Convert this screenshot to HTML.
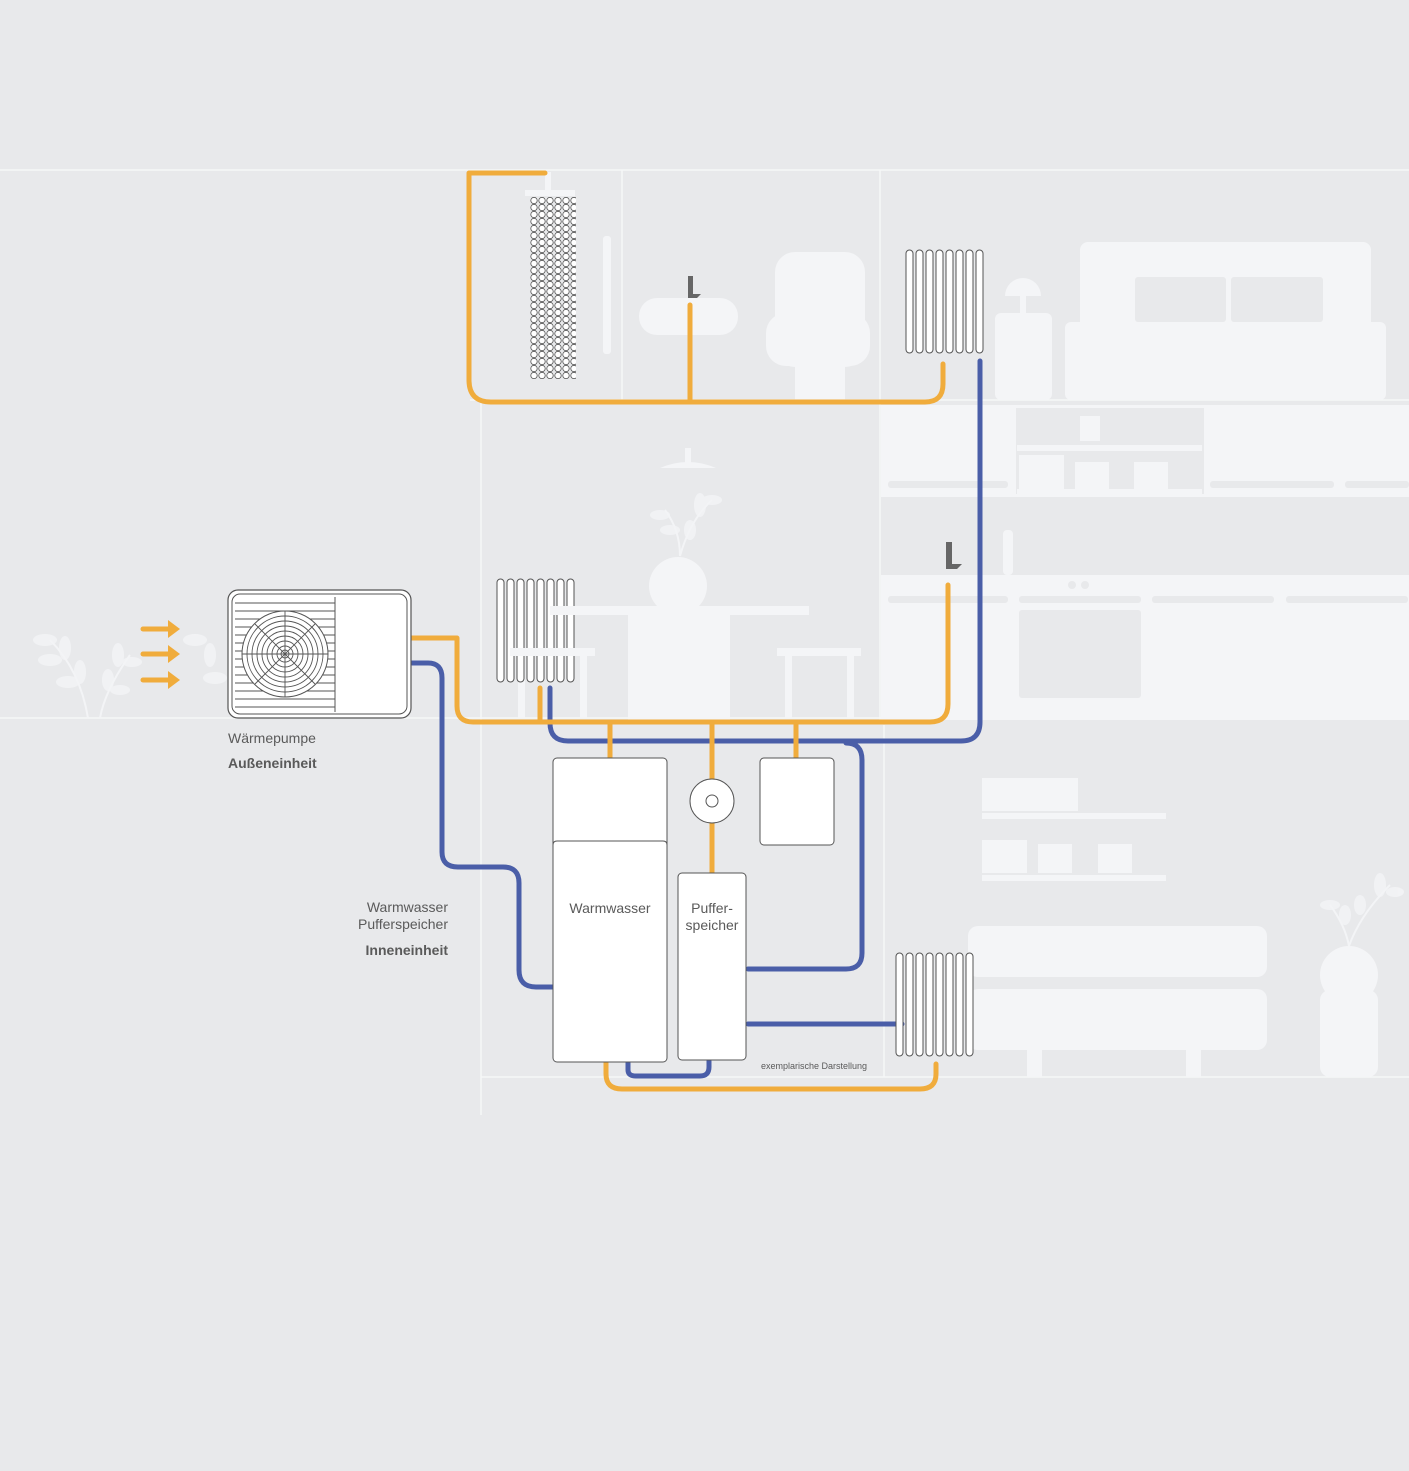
<!DOCTYPE html>
<html><head><meta charset="utf-8"><style>
html,body{margin:0;padding:0;background:#e8e9eb;}
svg{display:block}
text{font-family:"Liberation Sans",sans-serif;fill:#5a5a5a}
</style></head><body>
<svg width="1409" height="1471" viewBox="0 0 1409 1471" xmlns="http://www.w3.org/2000/svg">
<defs>
<pattern id="dots" x="530" y="197" width="8" height="7" patternUnits="userSpaceOnUse">
<circle cx="4" cy="3.5" r="3.2" fill="#fff" stroke="#555" stroke-width="0.8"/>
</pattern>
<g id="rad">
<rect x="0" y="0" width="7" height="103" rx="3.5" fill="#fff" stroke="#555" stroke-width="1"/>
</g>
</defs>
<rect width="1409" height="1471" fill="#e8e9eb"/>
<!-- structure lines -->
<g stroke="#f6f7f8" stroke-width="1.5" fill="none">
<line x1="0" y1="170" x2="1409" y2="170"/>
<line x1="622" y1="170" x2="622" y2="400"/>
<line x1="880" y1="170" x2="880" y2="720"/>
<line x1="481" y1="400" x2="481" y2="1115"/>
<line x1="0" y1="718" x2="1409" y2="718"/>
<line x1="481" y1="1077" x2="1409" y2="1077"/>
<line x1="470" y1="400" x2="1409" y2="400"/>
<line x1="884" y1="725" x2="884" y2="1077"/>
</g>
<!-- furniture -->
<g fill="#f4f5f7">
<rect x="603" y="236" width="8" height="118" rx="3"/>
<rect x="525" y="190" width="50" height="6"/>
<rect x="545" y="172" width="6" height="20"/>
<rect x="639" y="298" width="99" height="37" rx="18"/>
<rect x="775" y="252" width="90" height="115" rx="20"/>
<rect x="766" y="313" width="104" height="53" rx="20"/>
<rect x="795" y="360" width="50" height="40"/>
<rect x="1080" y="242" width="291" height="90" rx="8"/>
<rect x="1065" y="322" width="321" height="78" rx="6"/>
<rect x="995" y="313" width="57" height="87" rx="6"/>
<path d="M1005 296 a18 18 0 0 1 36 0 z"/>
<rect x="1020" y="294" width="6" height="20"/>
<!-- kitchen -->
<rect x="881" y="405" width="528" height="92"/>
<rect x="881" y="575" width="528" height="145"/>
<rect x="1003" y="530" width="10" height="45" rx="4"/>
<circle cx="1003" cy="525" r="4"/><circle cx="1014" cy="518" r="4"/>
<!-- dining -->
<rect x="552" y="606" width="257" height="9"/>
<rect x="628" y="612" width="102" height="108"/>
<circle cx="678" cy="586" r="29"/>
<rect x="510" y="648" width="85" height="8"/>
<rect x="518" y="654" width="7" height="64"/><rect x="580" y="654" width="7" height="64"/>
<rect x="777" y="648" width="84" height="8"/>
<rect x="785" y="654" width="7" height="64"/><rect x="847" y="654" width="7" height="64"/>
<path d="M660 468 q28 -12 56 0 z"/><rect x="685" y="448" width="6" height="20"/>
<!-- living -->
<rect x="982" y="813" width="184" height="6"/>
<rect x="982" y="875" width="184" height="6"/>
<rect x="982" y="778" width="96" height="33"/>
<rect x="982" y="840" width="45" height="33"/>
<rect x="1038" y="844" width="34" height="29"/>
<rect x="1098" y="844" width="34" height="29"/>
<rect x="968" y="926" width="299" height="51" rx="10"/>
<rect x="968" y="989" width="299" height="61" rx="10"/>
<rect x="1027" y="970" width="15" height="107"/>
<rect x="1186" y="970" width="15" height="107"/>
<circle cx="1349" cy="975" r="29"/>
<rect x="1320" y="990" width="58" height="87" rx="10"/>
</g>
<g fill="#e8e9eb">
<rect x="1135" y="277" width="91" height="45" rx="3"/>
<rect x="1231" y="277" width="92" height="45" rx="3"/>
<rect x="1016" y="408" width="188" height="86"/>
<rect x="1019" y="610" width="122" height="88" rx="3"/>
<rect x="881" y="497" width="528" height="78"/>
</g>
<g fill="#f4f5f7">
<rect x="1017" y="445" width="185" height="6"/>
<rect x="1017" y="489" width="185" height="6"/>
<rect x="1080" y="416" width="20" height="25"/>
<rect x="1019" y="455" width="45" height="34"/>
<rect x="1075" y="462" width="34" height="27"/><rect x="1134" y="462" width="34" height="27"/>
<rect x="1003" y="530" width="10" height="45" rx="4"/>
</g>
<g fill="#e8e9eb">
<rect x="888" y="481" width="120" height="7" rx="3"/><rect x="1210" y="481" width="124" height="7" rx="3"/><rect x="1345" y="481" width="64" height="7" rx="3"/>
<rect x="888" y="596" width="120" height="7" rx="3"/><rect x="1019" y="596" width="122" height="7" rx="3"/><rect x="1152" y="596" width="122" height="7" rx="3"/><rect x="1286" y="596" width="122" height="7" rx="3"/>
<circle cx="1072" cy="585" r="4"/><circle cx="1085" cy="585" r="4"/>
<rect x="968" y="977" width="299" height="12"/>
</g>
<!-- plants (simplified) -->
<g fill="#f3f4f6" opacity="0.9">
<ellipse cx="45" cy="640" rx="12" ry="6"/><ellipse cx="65" cy="648" rx="6" ry="12"/><ellipse cx="50" cy="660" rx="12" ry="6"/><ellipse cx="80" cy="672" rx="6" ry="12"/><ellipse cx="68" cy="682" rx="12" ry="6"/>
<ellipse cx="118" cy="655" rx="6" ry="12"/><ellipse cx="132" cy="662" rx="10" ry="5"/><ellipse cx="108" cy="680" rx="6" ry="11"/><ellipse cx="120" cy="690" rx="10" ry="5"/>
<ellipse cx="195" cy="640" rx="12" ry="6"/><ellipse cx="210" cy="655" rx="6" ry="12"/><ellipse cx="215" cy="678" rx="12" ry="6"/>
<ellipse cx="660" cy="515" rx="10" ry="5"/><ellipse cx="670" cy="530" rx="10" ry="5"/><ellipse cx="700" cy="505" rx="6" ry="12"/><ellipse cx="712" cy="500" rx="10" ry="5"/><ellipse cx="690" cy="530" rx="6" ry="10"/>
<ellipse cx="1330" cy="905" rx="10" ry="5"/><ellipse cx="1345" cy="915" rx="6" ry="10"/><ellipse cx="1380" cy="885" rx="6" ry="12"/><ellipse cx="1395" cy="892" rx="9" ry="5"/><ellipse cx="1360" cy="905" rx="6" ry="10"/>
</g>
<g stroke="#f3f4f6" stroke-width="2" fill="none">
<path d="M50 640 Q80 670 88 718"/><path d="M130 655 Q105 690 100 718"/>
<path d="M665 510 Q680 530 680 556"/><path d="M712 500 Q690 520 680 556"/>
<path d="M1330 905 Q1345 925 1349 946"/><path d="M1390 885 Q1360 915 1349 946"/>
</g>
<!-- pipes -->
<g fill="none" stroke-width="5" stroke-linecap="round" stroke-linejoin="round">
<path stroke="#f0ac3c" d="M545 173 H469 V380 Q469 402 491 402 H925 Q943 402 943 384 V364"/>
<path stroke="#f0ac3c" d="M690 305 V402"/>
<path stroke="#4a5ea8" d="M980 361 V722 Q980 741 961 741 H568 Q550 741 550 723 V688"/>
<path stroke="#4a5ea8" d="M846 743 Q862 743 862 760 V953 Q862 969 846 969 H748"/>
<path stroke="#f0ac3c" d="M412 638 H457 V706 Q457 722 473 722 H930 Q948 722 948 704 V585"/>
<path stroke="#f0ac3c" d="M540 688 V722"/>
<path stroke="#f0ac3c" d="M610 722 V758 M712 722 V780 M796 722 V758 M712 823 V873"/>
<path stroke="#4a5ea8" d="M412 663 H428 Q442 663 442 678 V852 Q442 867 458 867 H503 Q519 867 519 883 V970 Q519 987 536 987 H553"/>
<path stroke="#4a5ea8" d="M628 1063 V1070 Q628 1076 636 1076 H700 Q709 1076 709 1067 V1061"/>
<path stroke="#f0ac3c" d="M606 1063 V1074 Q606 1089 622 1089 H920 Q936 1089 936 1074 V1064"/>
<path stroke="#4a5ea8" d="M748 1024 H902"/>
</g>
<!-- faucets -->
<path d="M688 276 h5 v18 h8 l-4 4 h-9 z" fill="#666"/>
<path d="M946 542 h6 v22 h10 l-5 5 h-11 z" fill="#666"/>
<!-- shower -->
<rect x="530" y="197" width="46" height="182" fill="url(#dots)"/>
<!-- radiators -->
<g>
<use href="#rad" x="906" y="250"/><use href="#rad" x="916" y="250"/><use href="#rad" x="926" y="250"/><use href="#rad" x="936" y="250"/><use href="#rad" x="946" y="250"/><use href="#rad" x="956" y="250"/><use href="#rad" x="966" y="250"/><use href="#rad" x="976" y="250"/>
<use href="#rad" x="497" y="579"/><use href="#rad" x="507" y="579"/><use href="#rad" x="517" y="579"/><use href="#rad" x="527" y="579"/><use href="#rad" x="537" y="579"/><use href="#rad" x="547" y="579"/><use href="#rad" x="557" y="579"/><use href="#rad" x="567" y="579"/>
<use href="#rad" x="896" y="953"/><use href="#rad" x="906" y="953"/><use href="#rad" x="916" y="953"/><use href="#rad" x="926" y="953"/><use href="#rad" x="936" y="953"/><use href="#rad" x="946" y="953"/><use href="#rad" x="956" y="953"/><use href="#rad" x="966" y="953"/>
</g>
<g fill="#f4f5f7"><rect x="550" y="606" width="30" height="9"/><rect x="510" y="648" width="70" height="8"/></g>
<!-- arrows -->
<g stroke="#f0ac3c" stroke-width="5" stroke-linecap="round" fill="#f0ac3c">
<line x1="143" y1="629" x2="168" y2="629"/><line x1="143" y1="654" x2="168" y2="654"/><line x1="143" y1="680" x2="168" y2="680"/>
</g>
<g fill="#f0ac3c">
<path d="M168 620 L180 629 L168 638 z"/><path d="M168 645 L180 654 L168 663 z"/><path d="M168 671 L180 680 L168 689 z"/>
</g>
<!-- heat pump -->
<rect x="228" y="590" width="183" height="128" rx="10" fill="#fff" stroke="#555" stroke-width="1.2"/>
<rect x="232" y="594" width="175" height="120" rx="8" fill="#fff" stroke="#555" stroke-width="1"/>
<line x1="335" y1="597" x2="335" y2="712" stroke="#555"/>
<g stroke="#555" stroke-width="1">
<line x1="235" y1="603" x2="335" y2="603"/><line x1="235" y1="611" x2="335" y2="611"/><line x1="235" y1="619" x2="335" y2="619"/><line x1="235" y1="627" x2="335" y2="627"/><line x1="235" y1="635" x2="335" y2="635"/><line x1="235" y1="643" x2="335" y2="643"/><line x1="235" y1="651" x2="335" y2="651"/><line x1="235" y1="659" x2="335" y2="659"/><line x1="235" y1="667" x2="335" y2="667"/><line x1="235" y1="675" x2="335" y2="675"/><line x1="235" y1="683" x2="335" y2="683"/><line x1="235" y1="691" x2="335" y2="691"/><line x1="235" y1="699" x2="335" y2="699"/><line x1="235" y1="707" x2="335" y2="707"/>
</g>
<circle cx="285" cy="654" r="43" fill="#fff" stroke="#555"/>
<g fill="none" stroke="#555" stroke-width="0.9">
<circle cx="285" cy="654" r="38"/><circle cx="285" cy="654" r="33"/><circle cx="285" cy="654" r="28"/><circle cx="285" cy="654" r="23"/><circle cx="285" cy="654" r="18"/><circle cx="285" cy="654" r="13"/><circle cx="285" cy="654" r="8"/><circle cx="285" cy="654" r="4"/>
<path d="M285 611 V697 M242 654 H328 M255 624 L315 684 M315 624 L255 684"/>
</g>
<!-- tanks -->
<rect x="553" y="758" width="114" height="304" rx="4" fill="#fff" stroke="#555" stroke-width="1"/>
<path d="M553 845 Q553 841 557 841 H663 Q667 841 667 845" fill="none" stroke="#555"/>
<rect x="678" y="873" width="68" height="187" rx="4" fill="#fff" stroke="#555"/>
<circle cx="712" cy="801" r="22" fill="#fff" stroke="#555"/>
<circle cx="712" cy="801" r="6" fill="#fff" stroke="#555"/>
<rect x="760" y="758" width="74" height="87" rx="4" fill="#fff" stroke="#555"/>
<!-- labels -->
<text x="610" y="913" font-size="14" text-anchor="middle">Warmwasser</text>
<text x="712" y="913" font-size="14" text-anchor="middle">Puffer-</text>
<text x="712" y="930" font-size="14" text-anchor="middle">speicher</text>
<text x="228" y="743" font-size="14">Wärmepumpe</text>
<text x="228" y="768" font-size="14" font-weight="bold">Außeneinheit</text>
<text x="448" y="912" font-size="14" text-anchor="end">Warmwasser</text>
<text x="448" y="929" font-size="14" text-anchor="end">Pufferspeicher</text>
<text x="448" y="955" font-size="14" font-weight="bold" text-anchor="end">Inneneinheit</text>
<text x="761" y="1069" font-size="9">exemplarische Darstellung</text>
</svg>
</body></html>
